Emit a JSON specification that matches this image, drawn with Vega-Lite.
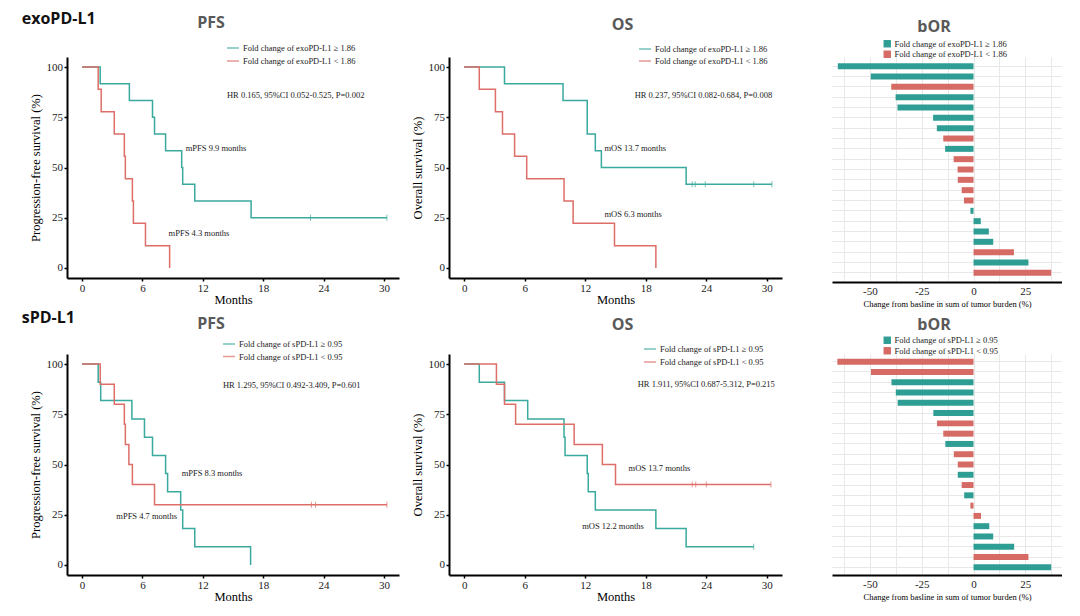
{
  "$schema": "https://vega.github.io/schema/vega-lite/v6.json",
  "background": "white",
  "padding": {"left": 21, "top": 10, "right": 0, "bottom": 0},
  "bounds": "flush",
  "columns": 3,
  "spacing": {"row": 72, "column": 50},
  "resolve": {"scale": {"color": "independent"}, "legend": {"color": "independent"}},
  "config": {
    "view": {"stroke": null},
    "axis": {"labelFont": "Liberation Serif", "titleFont": "Liberation Serif", "labelColor": "#1a1a1a", "titleColor": "#000", "titleFontWeight": "normal", "labelFontSize": 11, "titleFontSize": 12.5, "domainColor": "#000", "domainWidth": 2, "tickColor": "#000", "tickWidth": 1.5, "tickSize": 3, "grid": false, "labelPadding": 1.5, "labelFlush": false},
    "legend": {"labelFont": "Liberation Serif", "labelFontSize": 8.5, "labelColor": "#222", "padding": 0},
    "title": {"font": "Open Sans", "fontWeight": "bold", "fontSize": 16, "color": "#595959"}
  },
  "datasets": {
    "pfs1": [
      {"t": 0, "s": 100, "g": "Fold change of exoPD-L1 ≥ 1.86"}, {"t": 1.8, "s": 91.7, "g": "Fold change of exoPD-L1 ≥ 1.86"}, {"t": 4.7, "s": 83.3, "g": "Fold change of exoPD-L1 ≥ 1.86"}, {"t": 7.0, "s": 75, "g": "Fold change of exoPD-L1 ≥ 1.86"}, {"t": 7.2, "s": 66.7, "g": "Fold change of exoPD-L1 ≥ 1.86"}, {"t": 8.3, "s": 58.3, "g": "Fold change of exoPD-L1 ≥ 1.86"}, {"t": 9.9, "s": 50, "g": "Fold change of exoPD-L1 ≥ 1.86"}, {"t": 10.0, "s": 41.7, "g": "Fold change of exoPD-L1 ≥ 1.86"}, {"t": 11.2, "s": 33.3, "g": "Fold change of exoPD-L1 ≥ 1.86"}, {"t": 16.8, "s": 25, "g": "Fold change of exoPD-L1 ≥ 1.86"}, {"t": 30.3, "s": 25, "g": "Fold change of exoPD-L1 ≥ 1.86"},
      {"t": 0, "s": 100, "g": "Fold change of exoPD-L1 < 1.86"}, {"t": 1.6, "s": 88.9, "g": "Fold change of exoPD-L1 < 1.86"}, {"t": 1.9, "s": 77.8, "g": "Fold change of exoPD-L1 < 1.86"}, {"t": 3.2, "s": 66.7, "g": "Fold change of exoPD-L1 < 1.86"}, {"t": 4.2, "s": 55.6, "g": "Fold change of exoPD-L1 < 1.86"}, {"t": 4.3, "s": 44.4, "g": "Fold change of exoPD-L1 < 1.86"}, {"t": 5.0, "s": 33.3, "g": "Fold change of exoPD-L1 < 1.86"}, {"t": 5.1, "s": 22.2, "g": "Fold change of exoPD-L1 < 1.86"}, {"t": 6.3, "s": 11.1, "g": "Fold change of exoPD-L1 < 1.86"}, {"t": 8.7, "s": 0, "g": "Fold change of exoPD-L1 < 1.86"}
    ],
    "pfs1c": [
      {"t": 22.7, "s": 25, "g": "Fold change of exoPD-L1 ≥ 1.86"}, {"t": 30.3, "s": 25, "g": "Fold change of exoPD-L1 ≥ 1.86"}
    ],
    "pfs1a": [
      {"t": 14.4, "s": 86, "label": "HR 0.165, 95%CI 0.052-0.525, P=0.002"},
      {"t": 10.3, "s": 59.8, "label": "mPFS 9.9 months"},
      {"t": 8.6, "s": 17.4, "label": "mPFS 4.3 months"}
    ],
    "os1": [
      {"t": 0, "s": 100, "g": "Fold change of exoPD-L1 ≥ 1.86"}, {"t": 4.0, "s": 91.7, "g": "Fold change of exoPD-L1 ≥ 1.86"}, {"t": 9.8, "s": 83.3, "g": "Fold change of exoPD-L1 ≥ 1.86"}, {"t": 12.2, "s": 66.7, "g": "Fold change of exoPD-L1 ≥ 1.86"}, {"t": 13.0, "s": 58.3, "g": "Fold change of exoPD-L1 ≥ 1.86"}, {"t": 13.6, "s": 50, "g": "Fold change of exoPD-L1 ≥ 1.86"}, {"t": 22.0, "s": 41.7, "g": "Fold change of exoPD-L1 ≥ 1.86"}, {"t": 30.5, "s": 41.7, "g": "Fold change of exoPD-L1 ≥ 1.86"},
      {"t": 0, "s": 100, "g": "Fold change of exoPD-L1 < 1.86"}, {"t": 1.5, "s": 88.9, "g": "Fold change of exoPD-L1 < 1.86"}, {"t": 3.1, "s": 77.8, "g": "Fold change of exoPD-L1 < 1.86"}, {"t": 3.8, "s": 66.7, "g": "Fold change of exoPD-L1 < 1.86"}, {"t": 5.0, "s": 55.6, "g": "Fold change of exoPD-L1 < 1.86"}, {"t": 6.2, "s": 44.4, "g": "Fold change of exoPD-L1 < 1.86"}, {"t": 9.9, "s": 33.3, "g": "Fold change of exoPD-L1 < 1.86"}, {"t": 10.8, "s": 22.2, "g": "Fold change of exoPD-L1 < 1.86"}, {"t": 14.9, "s": 11.1, "g": "Fold change of exoPD-L1 < 1.86"}, {"t": 19.0, "s": 0, "g": "Fold change of exoPD-L1 < 1.86"}
    ],
    "os1c": [
      {"t": 22.6, "s": 41.7, "g": "Fold change of exoPD-L1 ≥ 1.86"}, {"t": 22.9, "s": 41.7, "g": "Fold change of exoPD-L1 ≥ 1.86"}, {"t": 23.9, "s": 41.7, "g": "Fold change of exoPD-L1 ≥ 1.86"}, {"t": 28.7, "s": 41.7, "g": "Fold change of exoPD-L1 ≥ 1.86"}, {"t": 30.5, "s": 41.7, "g": "Fold change of exoPD-L1 ≥ 1.86"}
    ],
    "os1a": [
      {"t": 16.9, "s": 86.3, "label": "HR 0.237, 95%CI 0.082-0.684, P=0.008"},
      {"t": 13.9, "s": 59.7, "label": "mOS 13.7 months"},
      {"t": 13.9, "s": 27.1, "label": "mOS 6.3 months"}
    ],
    "bor1": [
      {"id": "p01", "v": -65.5, "g": "Fold change of exoPD-L1 ≥ 1.86"},
      {"id": "p02", "v": -49.6, "g": "Fold change of exoPD-L1 ≥ 1.86"},
      {"id": "p03", "v": -39.7, "g": "Fold change of exoPD-L1 < 1.86"},
      {"id": "p04", "v": -37.6, "g": "Fold change of exoPD-L1 ≥ 1.86"},
      {"id": "p05", "v": -36.7, "g": "Fold change of exoPD-L1 ≥ 1.86"},
      {"id": "p06", "v": -19.5, "g": "Fold change of exoPD-L1 ≥ 1.86"},
      {"id": "p07", "v": -17.7, "g": "Fold change of exoPD-L1 ≥ 1.86"},
      {"id": "p08", "v": -14.6, "g": "Fold change of exoPD-L1 < 1.86"},
      {"id": "p09", "v": -13.7, "g": "Fold change of exoPD-L1 ≥ 1.86"},
      {"id": "p10", "v": -9.6, "g": "Fold change of exoPD-L1 < 1.86"},
      {"id": "p11", "v": -7.7, "g": "Fold change of exoPD-L1 < 1.86"},
      {"id": "p12", "v": -7.6, "g": "Fold change of exoPD-L1 < 1.86"},
      {"id": "p13", "v": -5.7, "g": "Fold change of exoPD-L1 < 1.86"},
      {"id": "p14", "v": -4.6, "g": "Fold change of exoPD-L1 < 1.86"},
      {"id": "p15", "v": -1.5, "g": "Fold change of exoPD-L1 ≥ 1.86"},
      {"id": "p16", "v": 3.5, "g": "Fold change of exoPD-L1 ≥ 1.86"},
      {"id": "p17", "v": 7.4, "g": "Fold change of exoPD-L1 ≥ 1.86"},
      {"id": "p18", "v": 9.5, "g": "Fold change of exoPD-L1 ≥ 1.86"},
      {"id": "p19", "v": 19.5, "g": "Fold change of exoPD-L1 < 1.86"},
      {"id": "p20", "v": 26.5, "g": "Fold change of exoPD-L1 ≥ 1.86"},
      {"id": "p21", "v": 37.5, "g": "Fold change of exoPD-L1 < 1.86"}
    ],
    "pfs2": [
      {"t": 0, "s": 100, "g": "Fold change of sPD-L1 ≥ 0.95"}, {"t": 1.6, "s": 90.9, "g": "Fold change of sPD-L1 ≥ 0.95"}, {"t": 1.85, "s": 81.8, "g": "Fold change of sPD-L1 ≥ 0.95"}, {"t": 4.95, "s": 72.7, "g": "Fold change of sPD-L1 ≥ 0.95"}, {"t": 6.2, "s": 63.6, "g": "Fold change of sPD-L1 ≥ 0.95"}, {"t": 7.0, "s": 54.5, "g": "Fold change of sPD-L1 ≥ 0.95"}, {"t": 8.3, "s": 45.5, "g": "Fold change of sPD-L1 ≥ 0.95"}, {"t": 8.5, "s": 36.4, "g": "Fold change of sPD-L1 ≥ 0.95"}, {"t": 9.8, "s": 27.3, "g": "Fold change of sPD-L1 ≥ 0.95"}, {"t": 10.0, "s": 18.2, "g": "Fold change of sPD-L1 ≥ 0.95"}, {"t": 11.2, "s": 9.1, "g": "Fold change of sPD-L1 ≥ 0.95"}, {"t": 16.75, "s": 0, "g": "Fold change of sPD-L1 ≥ 0.95"},
      {"t": 0, "s": 100, "g": "Fold change of sPD-L1 < 0.95"}, {"t": 1.8, "s": 90, "g": "Fold change of sPD-L1 < 0.95"}, {"t": 3.2, "s": 80, "g": "Fold change of sPD-L1 < 0.95"}, {"t": 4.2, "s": 70, "g": "Fold change of sPD-L1 < 0.95"}, {"t": 4.3, "s": 60, "g": "Fold change of sPD-L1 < 0.95"}, {"t": 4.65, "s": 50, "g": "Fold change of sPD-L1 < 0.95"}, {"t": 5.0, "s": 40, "g": "Fold change of sPD-L1 < 0.95"}, {"t": 7.2, "s": 30, "g": "Fold change of sPD-L1 < 0.95"}, {"t": 30.3, "s": 30, "g": "Fold change of sPD-L1 < 0.95"}
    ],
    "pfs2c": [
      {"t": 22.8, "s": 30, "g": "Fold change of sPD-L1 < 0.95"}, {"t": 23.2, "s": 30, "g": "Fold change of sPD-L1 < 0.95"}, {"t": 30.3, "s": 30, "g": "Fold change of sPD-L1 < 0.95"}
    ],
    "pfs2a": [
      {"t": 14.0, "s": 89.8, "label": "HR 1.295, 95%CI 0.492-3.409, P=0.601"},
      {"t": 9.9, "s": 45.9, "label": "mPFS 8.3 months"},
      {"t": 3.4, "s": 24.3, "label": "mPFS 4.7 months"}
    ],
    "os2": [
      {"t": 0, "s": 100, "g": "Fold change of sPD-L1 ≥ 0.95"}, {"t": 1.5, "s": 90.9, "g": "Fold change of sPD-L1 ≥ 0.95"}, {"t": 4.0, "s": 81.8, "g": "Fold change of sPD-L1 ≥ 0.95"}, {"t": 6.3, "s": 72.7, "g": "Fold change of sPD-L1 ≥ 0.95"}, {"t": 9.9, "s": 63.6, "g": "Fold change of sPD-L1 ≥ 0.95"}, {"t": 10.0, "s": 54.5, "g": "Fold change of sPD-L1 ≥ 0.95"}, {"t": 12.2, "s": 45.5, "g": "Fold change of sPD-L1 ≥ 0.95"}, {"t": 12.3, "s": 36.4, "g": "Fold change of sPD-L1 ≥ 0.95"}, {"t": 13.0, "s": 27.3, "g": "Fold change of sPD-L1 ≥ 0.95"}, {"t": 19.0, "s": 18.2, "g": "Fold change of sPD-L1 ≥ 0.95"}, {"t": 22.0, "s": 9.1, "g": "Fold change of sPD-L1 ≥ 0.95"}, {"t": 28.7, "s": 9.1, "g": "Fold change of sPD-L1 ≥ 0.95"},
      {"t": 0, "s": 100, "g": "Fold change of sPD-L1 < 0.95"}, {"t": 3.2, "s": 90, "g": "Fold change of sPD-L1 < 0.95"}, {"t": 4.0, "s": 80, "g": "Fold change of sPD-L1 < 0.95"}, {"t": 5.1, "s": 70, "g": "Fold change of sPD-L1 < 0.95"}, {"t": 10.9, "s": 60, "g": "Fold change of sPD-L1 < 0.95"}, {"t": 13.7, "s": 50, "g": "Fold change of sPD-L1 < 0.95"}, {"t": 15.0, "s": 40, "g": "Fold change of sPD-L1 < 0.95"}, {"t": 30.4, "s": 40, "g": "Fold change of sPD-L1 < 0.95"}
    ],
    "os2c": [
      {"t": 22.6, "s": 40, "g": "Fold change of sPD-L1 < 0.95"}, {"t": 22.95, "s": 40, "g": "Fold change of sPD-L1 < 0.95"}, {"t": 24.0, "s": 40, "g": "Fold change of sPD-L1 < 0.95"}, {"t": 30.4, "s": 40, "g": "Fold change of sPD-L1 < 0.95"}, {"t": 28.7, "s": 9.1, "g": "Fold change of sPD-L1 ≥ 0.95"}
    ],
    "os2a": [
      {"t": 17.2, "s": 90.3, "label": "HR 1.911, 95%CI 0.687-5.312, P=0.215"},
      {"t": 16.3, "s": 48.3, "label": "mOS 13.7 months"},
      {"t": 11.7, "s": 19.4, "label": "mOS 12.2 months"}
    ],
    "bor2": [
      {"id": "p01", "v": -65.7, "g": "Fold change of sPD-L1 < 0.95"},
      {"id": "p02", "v": -49.5, "g": "Fold change of sPD-L1 < 0.95"},
      {"id": "p03", "v": -39.6, "g": "Fold change of sPD-L1 ≥ 0.95"},
      {"id": "p04", "v": -37.5, "g": "Fold change of sPD-L1 ≥ 0.95"},
      {"id": "p05", "v": -36.6, "g": "Fold change of sPD-L1 ≥ 0.95"},
      {"id": "p06", "v": -19.4, "g": "Fold change of sPD-L1 ≥ 0.95"},
      {"id": "p07", "v": -17.6, "g": "Fold change of sPD-L1 < 0.95"},
      {"id": "p08", "v": -14.6, "g": "Fold change of sPD-L1 < 0.95"},
      {"id": "p09", "v": -13.6, "g": "Fold change of sPD-L1 ≥ 0.95"},
      {"id": "p10", "v": -9.5, "g": "Fold change of sPD-L1 < 0.95"},
      {"id": "p11", "v": -7.6, "g": "Fold change of sPD-L1 < 0.95"},
      {"id": "p12", "v": -7.6, "g": "Fold change of sPD-L1 ≥ 0.95"},
      {"id": "p13", "v": -5.7, "g": "Fold change of sPD-L1 < 0.95"},
      {"id": "p14", "v": -4.5, "g": "Fold change of sPD-L1 ≥ 0.95"},
      {"id": "p15", "v": -1.5, "g": "Fold change of sPD-L1 < 0.95"},
      {"id": "p16", "v": 3.6, "g": "Fold change of sPD-L1 < 0.95"},
      {"id": "p17", "v": 7.6, "g": "Fold change of sPD-L1 ≥ 0.95"},
      {"id": "p18", "v": 9.5, "g": "Fold change of sPD-L1 ≥ 0.95"},
      {"id": "p19", "v": 19.6, "g": "Fold change of sPD-L1 ≥ 0.95"},
      {"id": "p20", "v": 26.5, "g": "Fold change of sPD-L1 < 0.95"},
      {"id": "p21", "v": 37.5, "g": "Fold change of sPD-L1 ≥ 0.95"}
    ]
  },
  "concat": [
    {
      "width": 332, "height": 221,
      "title": {"text": "PFS", "anchor": "middle", "frame": "group", "dx": -22, "offset": 10, "dy": 30},
      "layer": [
        {
          "data": {"name": "pfs1"},
          "mark": {"type": "line", "interpolate": "step-after", "strokeWidth": 1.5},
          "encoding": {
            "x": {"field": "t", "type": "quantitative", "scale": {"domain": [-1.5, 31.5], "nice": false, "zero": false}, "axis": {"title": "Months", "values": [0, 6, 12, 18, 24, 30], "titlePadding": 0}},
            "y": {"field": "s", "type": "quantitative", "scale": {"domain": [-5, 105], "nice": false}, "axis": {"title": "Progression-free survival (%)", "values": [0, 25, 50, 75, 100], "titlePadding": 4}},
            "color": {"field": "g", "type": "nominal", "scale": {"domain": ["Fold change of exoPD-L1 ≥ 1.86", "Fold change of exoPD-L1 < 1.86"], "range": ["#3aa99e", "#dd6e68"]},
              "legend": {"orient": "none", "legendX": 159, "legendY": -16, "title": null, "symbolType": "stroke", "symbolSize": 144, "symbolStrokeWidth": 1.5, "rowPadding": 1, "labelOffset": 3}}
          }
        },
        {
          "data": {"name": "pfs1c"},
          "mark": {"type": "tick", "orient": "vertical", "size": 6, "thickness": 1},
          "encoding": {"x": {"field": "t", "type": "quantitative"}, "y": {"field": "s", "type": "quantitative"}, "color": {"field": "g", "type": "nominal"}}
        },
        {
          "data": {"name": "pfs1a"},
          "mark": {"type": "text", "align": "left", "baseline": "middle", "font": "Liberation Serif", "fontSize": 8.5, "color": "#222"},
          "encoding": {"x": {"field": "t", "type": "quantitative"}, "y": {"field": "s", "type": "quantitative"}, "text": {"field": "label"}}
        },
        {
          "data": {"values": [{}]},
          "mark": {"type": "text", "align": "left", "baseline": "middle", "font": "Open Sans", "fontWeight": "bold", "fontSize": 16, "color": "#111"},
          "encoding": {"x": {"datum": -6.0}, "y": {"datum": 124.1}, "text": {"value": "exoPD-L1"}}
        }
      ]
    },
    {
      "width": 333, "height": 221,
      "title": {"text": "OS", "anchor": "middle", "frame": "group", "dx": 7, "offset": 9},
      "layer": [
        {
          "data": {"name": "os1"},
          "mark": {"type": "line", "interpolate": "step-after", "strokeWidth": 1.5},
          "encoding": {
            "x": {"field": "t", "type": "quantitative", "scale": {"domain": [-1.5, 31.5], "nice": false, "zero": false}, "axis": {"title": "Months", "values": [0, 6, 12, 18, 24, 30], "titlePadding": 0}},
            "y": {"field": "s", "type": "quantitative", "scale": {"domain": [-5, 105], "nice": false}, "axis": {"title": "Overall survival (%)", "values": [0, 25, 50, 75, 100], "titlePadding": 4}},
            "color": {"field": "g", "type": "nominal", "scale": {"domain": ["Fold change of exoPD-L1 ≥ 1.86", "Fold change of exoPD-L1 < 1.86"], "range": ["#3aa99e", "#dd6e68"]},
              "legend": {"orient": "none", "legendX": 189, "legendY": -15, "title": null, "symbolType": "stroke", "symbolSize": 144, "symbolStrokeWidth": 1.5, "rowPadding": 0, "labelOffset": 3}}
          }
        },
        {
          "data": {"name": "os1c"},
          "mark": {"type": "tick", "orient": "vertical", "size": 6, "thickness": 1},
          "encoding": {"x": {"field": "t", "type": "quantitative"}, "y": {"field": "s", "type": "quantitative"}, "color": {"field": "g", "type": "nominal"}}
        },
        {
          "data": {"name": "os1a"},
          "mark": {"type": "text", "align": "left", "baseline": "middle", "font": "Liberation Serif", "fontSize": 8.5, "color": "#222"},
          "encoding": {"x": {"field": "t", "type": "quantitative"}, "y": {"field": "s", "type": "quantitative"}, "text": {"field": "label"}}
        }
      ]
    },
    {
      "width": 230, "height": 225,
      "title": {"text": "bOR", "anchor": "middle", "frame": "group", "dx": -13, "offset": 5},
      "data": {"name": "bor1"},
      "mark": {"type": "bar"},
      "encoding": {
        "y": {"field": "id", "type": "nominal", "sort": null, "scale": {"paddingInner": 0.42, "paddingOuter": 0.6}, "axis": {"title": null, "labels": false, "ticks": false, "domain": false, "grid": true, "gridColor": "#e8e8e8", "gridWidth": 1, "bandPosition": 0.5}},
        "x": {"field": "v", "type": "quantitative", "scale": {"domain": [-68.3, 42.7], "nice": false, "zero": false},
          "axis": {"title": "Change from basline in sum of tumor burden (%)", "titleFontSize": 8.5, "titlePadding": 3, "values": [-62.5, -50, -37.5, -25, -12.5, 0, 12.5, 25, 37.5], "labelExpr": "datum.value % 25 === 0 ? (datum.value < 0 ? '-' + abs(datum.value) : '' + datum.value) : ''", "ticks": false, "grid": true, "gridColor": "#e8e8e8", "gridWidth": 1, "labelPadding": 3}},
        "color": {"field": "g", "type": "nominal", "scale": {"domain": ["Fold change of exoPD-L1 ≥ 1.86", "Fold change of exoPD-L1 < 1.86"], "range": ["#2e9e95", "#d66a64"]},
          "legend": {"orient": "none", "legendX": 51, "legendY": -17.5, "title": null, "symbolType": "square", "symbolSize": 55, "symbolStrokeWidth": 0, "rowPadding": 1.5, "labelOffset": 3}}
      }
    },
    {
      "width": 332, "height": 221,
      "title": {"text": "PFS", "anchor": "middle", "frame": "group", "dx": -22, "offset": 10, "dy": 32},
      "layer": [
        {
          "data": {"name": "pfs2"},
          "mark": {"type": "line", "interpolate": "step-after", "strokeWidth": 1.5},
          "encoding": {
            "x": {"field": "t", "type": "quantitative", "scale": {"domain": [-1.5, 31.5], "nice": false, "zero": false}, "axis": {"title": "Months", "values": [0, 6, 12, 18, 24, 30], "titlePadding": 0}},
            "y": {"field": "s", "type": "quantitative", "scale": {"domain": [-5, 105], "nice": false}, "axis": {"title": "Progression-free survival (%)", "values": [0, 25, 50, 75, 100], "titlePadding": 4}},
            "color": {"field": "g", "type": "nominal", "scale": {"domain": ["Fold change of sPD-L1 ≥ 0.95", "Fold change of sPD-L1 < 0.95"], "range": ["#3aa99e", "#dd6e68"]},
              "legend": {"orient": "none", "legendX": 155, "legendY": -17, "title": null, "symbolType": "stroke", "symbolSize": 144, "symbolStrokeWidth": 1.5, "rowPadding": 0.5, "labelOffset": 3}}
          }
        },
        {
          "data": {"name": "pfs2c"},
          "mark": {"type": "tick", "orient": "vertical", "size": 6, "thickness": 1},
          "encoding": {"x": {"field": "t", "type": "quantitative"}, "y": {"field": "s", "type": "quantitative"}, "color": {"field": "g", "type": "nominal"}}
        },
        {
          "data": {"name": "pfs2a"},
          "mark": {"type": "text", "align": "left", "baseline": "middle", "font": "Liberation Serif", "fontSize": 8.5, "color": "#222"},
          "encoding": {"x": {"field": "t", "type": "quantitative"}, "y": {"field": "s", "type": "quantitative"}, "text": {"field": "label"}}
        },
        {
          "data": {"values": [{}]},
          "mark": {"type": "text", "align": "left", "baseline": "middle", "font": "Open Sans", "fontWeight": "bold", "fontSize": 16, "color": "#111"},
          "encoding": {"x": {"datum": -6.0}, "y": {"datum": 122.9}, "text": {"value": "sPD-L1"}}
        }
      ]
    },
    {
      "width": 333, "height": 221,
      "title": {"text": "OS", "anchor": "middle", "frame": "group", "dx": 7, "offset": 9},
      "layer": [
        {
          "data": {"name": "os2"},
          "mark": {"type": "line", "interpolate": "step-after", "strokeWidth": 1.5},
          "encoding": {
            "x": {"field": "t", "type": "quantitative", "scale": {"domain": [-1.5, 31.5], "nice": false, "zero": false}, "axis": {"title": "Months", "values": [0, 6, 12, 18, 24, 30], "titlePadding": 0}},
            "y": {"field": "s", "type": "quantitative", "scale": {"domain": [-5, 105], "nice": false}, "axis": {"title": "Overall survival (%)", "values": [0, 25, 50, 75, 100], "titlePadding": 4}},
            "color": {"field": "g", "type": "nominal", "scale": {"domain": ["Fold change of sPD-L1 ≥ 0.95", "Fold change of sPD-L1 < 0.95"], "range": ["#3aa99e", "#dd6e68"]},
              "legend": {"orient": "none", "legendX": 194, "legendY": -12, "title": null, "symbolType": "stroke", "symbolSize": 144, "symbolStrokeWidth": 1.5, "rowPadding": 1, "labelOffset": 3}}
          }
        },
        {
          "data": {"name": "os2c"},
          "mark": {"type": "tick", "orient": "vertical", "size": 6, "thickness": 1},
          "encoding": {"x": {"field": "t", "type": "quantitative"}, "y": {"field": "s", "type": "quantitative"}, "color": {"field": "g", "type": "nominal"}}
        },
        {
          "data": {"name": "os2a"},
          "mark": {"type": "text", "align": "left", "baseline": "middle", "font": "Liberation Serif", "fontSize": 8.5, "color": "#222"},
          "encoding": {"x": {"field": "t", "type": "quantitative"}, "y": {"field": "s", "type": "quantitative"}, "text": {"field": "label"}}
        }
      ]
    },
    {
      "width": 230, "height": 221,
      "title": {"text": "bOR", "anchor": "middle", "frame": "group", "dx": -13, "offset": 3},
      "data": {"name": "bor2"},
      "mark": {"type": "bar"},
      "encoding": {
        "y": {"field": "id", "type": "nominal", "sort": null, "scale": {"paddingInner": 0.42, "paddingOuter": 0.46}, "axis": {"title": null, "labels": false, "ticks": false, "domain": false, "grid": true, "gridColor": "#e8e8e8", "gridWidth": 1, "bandPosition": 0.5}},
        "x": {"field": "v", "type": "quantitative", "scale": {"domain": [-68.3, 42.7], "nice": false, "zero": false},
          "axis": {"title": "Change from basline in sum of tumor burden (%)", "titleFontSize": 8.5, "titlePadding": 3, "values": [-62.5, -50, -37.5, -25, -12.5, 0, 12.5, 25, 37.5], "labelExpr": "datum.value % 25 === 0 ? (datum.value < 0 ? '-' + abs(datum.value) : '' + datum.value) : ''", "ticks": false, "grid": true, "gridColor": "#e8e8e8", "gridWidth": 1, "labelPadding": 3}},
        "color": {"field": "g", "type": "nominal", "scale": {"domain": ["Fold change of sPD-L1 ≥ 0.95", "Fold change of sPD-L1 < 0.95"], "range": ["#2e9e95", "#d66a64"]},
          "legend": {"orient": "none", "legendX": 51, "legendY": -18, "title": null, "symbolType": "square", "symbolSize": 55, "symbolStrokeWidth": 0, "rowPadding": 1.5, "labelOffset": 3}}
      }
    }
  ]
}
